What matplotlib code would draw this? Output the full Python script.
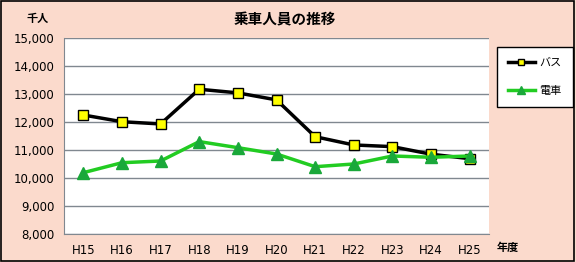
import matplotlib
matplotlib.use("Agg")
import matplotlib.pyplot as plt
from matplotlib.patches import Rectangle

plt.rcParams['font.family'] = ['Noto Sans CJK JP', 'DejaVu Sans']

years = ['H15', 'H16', 'H17', 'H18', 'H19', 'H20', 'H21', 'H22', 'H23', 'H24', 'H25']
bus = [12250, 12010, 11930, 13170, 13040, 12790, 11475, 11180, 11120, 10850, 10690]
train = [10190, 10546, 10607, 11300, 11083, 10857, 10404, 10500, 10786, 10740, 10786]
yticks = [8000, 9000, 10000, 11000, 12000, 13000, 14000, 15000]

bg = '#fbdacc'
fig = plt.figure(figsize=(5.76, 2.62), dpi=100, facecolor=bg)
# outer border
fig.patches.append(Rectangle((0.002, 0.004), 0.995, 0.992, transform=fig.transFigure,
                             fill=False, edgecolor='black', linewidth=1.2))

ax = fig.add_axes([64 / 576, 28 / 262, 425 / 576, 196 / 262])
ax.set_facecolor('white')
x = list(range(len(years)))

ax.plot(x, bus, color='black', linewidth=2.5, marker='s', markersize=7,
        markerfacecolor='#ffff00', markeredgecolor='black', markeredgewidth=1, label='バス', zorder=3)
ax.plot(x, train, color='#22cc22', linewidth=2.5, marker='^', markersize=8,
        markerfacecolor='#1aa83a', markeredgecolor='#1aa83a', label='電車', zorder=4)

ax.set_xlim(-0.5, 10.5)
ax.set_ylim(8000, 15000)
ax.set_yticks(yticks)
ax.set_yticklabels(['{:,}'.format(v) for v in yticks], family='DejaVu Sans', fontsize=8.5)
ax.set_xticks(x)
ax.set_xticklabels(years, family='DejaVu Sans', fontsize=8.5)
ax.tick_params(length=0, pad=7)
ax.grid(axis='y', color='#808890', linewidth=1)
ax.set_axisbelow(True)
for s in ['top', 'right']:
    ax.spines[s].set_visible(False)
for s in ['left', 'bottom']:
    ax.spines[s].set_color('#808890')

fig.text(0.495, 0.925, '乗車人員の推移', ha='center', va='center', fontsize=10.5, fontweight='bold')
fig.text(38 / 576, 0.93, '千人', ha='center', va='center', fontsize=8, fontweight='bold')
fig.text(508 / 576, 15 / 262, '年度', ha='center', va='center', fontsize=8, fontweight='bold')

leg = fig.legend(loc='upper left', bbox_to_anchor=(497 / 576, 1 - 47 / 262), fontsize=8,
                 frameon=True, fancybox=False, edgecolor='black', framealpha=1, handlelength=2.4,
                 labelspacing=1.6, borderpad=1.0, handletextpad=0.4, markerscale=0.7,
                 borderaxespad=0)
leg.get_frame().set_linewidth(1)

fig.savefig('out.png', dpi=100, facecolor=bg)
